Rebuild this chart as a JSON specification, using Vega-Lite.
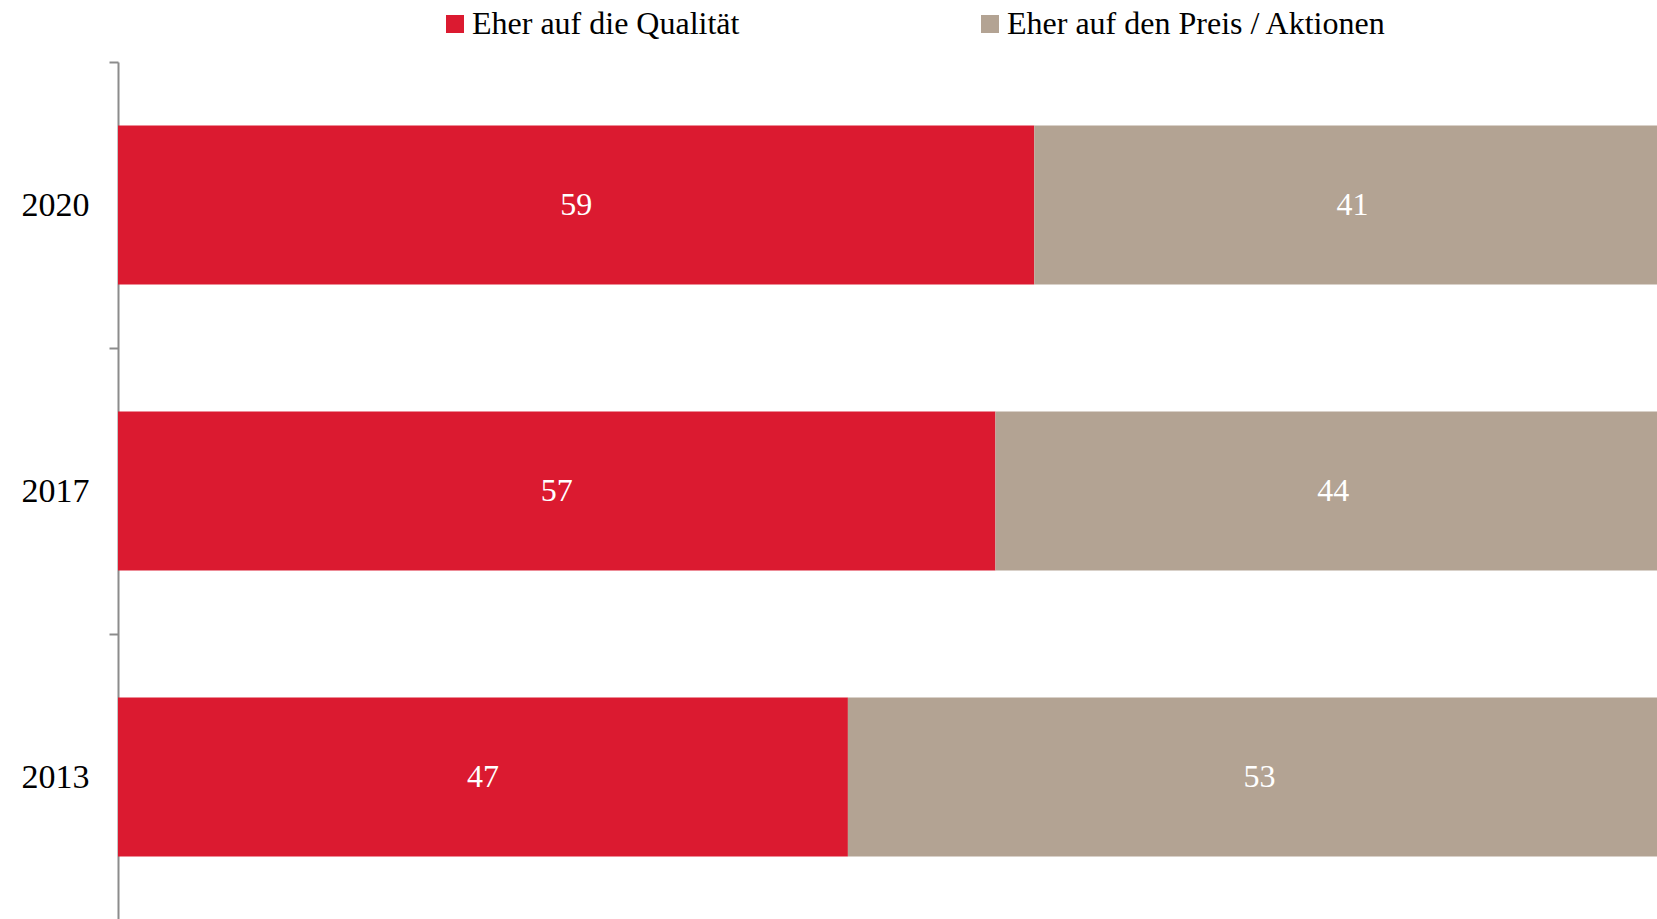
{
  "$schema": "https://vega.github.io/schema/vega-lite/v6.json",
  "autosize": {"type": "none"},
  "padding": {"left": 118, "top": 62, "right": 0, "bottom": 0},
  "width": 1539,
  "height": 858,
  "background": "white",
  "config": {
    "view": {"stroke": null},
    "font": "Liberation Serif"
  },
  "data": {
    "values": [
      {"year": "2020", "answer": "Eher auf die Qualität", "idx": 1, "value": 59, "label": "59"},
      {"year": "2020", "answer": "Eher auf den Preis / Aktionen", "idx": 2, "value": 41, "label": "41"},
      {"year": "2017", "answer": "Eher auf die Qualität", "idx": 1, "value": 56.5, "label": "57"},
      {"year": "2017", "answer": "Eher auf den Preis / Aktionen", "idx": 2, "value": 43.5, "label": "44"},
      {"year": "2013", "answer": "Eher auf die Qualität", "idx": 1, "value": 47, "label": "47"},
      {"year": "2013", "answer": "Eher auf den Preis / Aktionen", "idx": 2, "value": 53, "label": "53"}
    ]
  },
  "encoding": {
    "y": {
      "field": "year",
      "type": "nominal",
      "sort": ["2020", "2017", "2013"],
      "scale": {"paddingInner": 0, "paddingOuter": 0},
      "axis": {
        "title": null,
        "tickBand": "extent",
        "domainColor": "#8c8c8c",
        "domainWidth": 2,
        "tickColor": "#8c8c8c",
        "tickWidth": 2,
        "tickSize": 9,
        "labelPadding": 20,
        "labelFont": "Liberation Serif",
        "labelFontSize": 34,
        "labelColor": "#000000"
      }
    },
    "x": {
      "field": "value",
      "type": "quantitative",
      "stack": "zero",
      "scale": {"domain": [0, 99.1], "nice": false, "zero": true},
      "axis": null
    },
    "order": {"field": "idx", "type": "quantitative"}
  },
  "layer": [
    {
      "mark": {"type": "bar", "clip": true, "height": {"band": 0.556}},
      "encoding": {
        "color": {
          "field": "answer",
          "type": "nominal",
          "scale": {
            "domain": ["Eher auf die Qualität", "Eher auf den Preis / Aktionen"],
            "range": ["#DB1A30", "#B3A393"]
          },
          "legend": {
            "title": null,
            "orient": "none",
            "direction": "horizontal",
            "legendX": 321,
            "legendY": -54,
            "padding": 0,
            "symbolType": "square",
            "symbolSize": 324,
            "symbolStrokeWidth": 0,
            "symbolOpacity": 1,
            "labelFont": "Liberation Serif",
            "labelFontSize": 32,
            "labelColor": "#000000",
            "labelOffset": 1,
            "labelLimit": 600,
            "columnPadding": 234
          }
        }
      }
    },
    {
      "mark": {"type": "text", "color": "white", "fontSize": 32, "font": "Liberation Serif", "align": "center", "baseline": "middle"},
      "encoding": {
        "x": {"field": "value", "type": "quantitative", "stack": "zero", "bandPosition": 0.5},
        "text": {"field": "label", "type": "nominal"}
      }
    }
  ]
}
